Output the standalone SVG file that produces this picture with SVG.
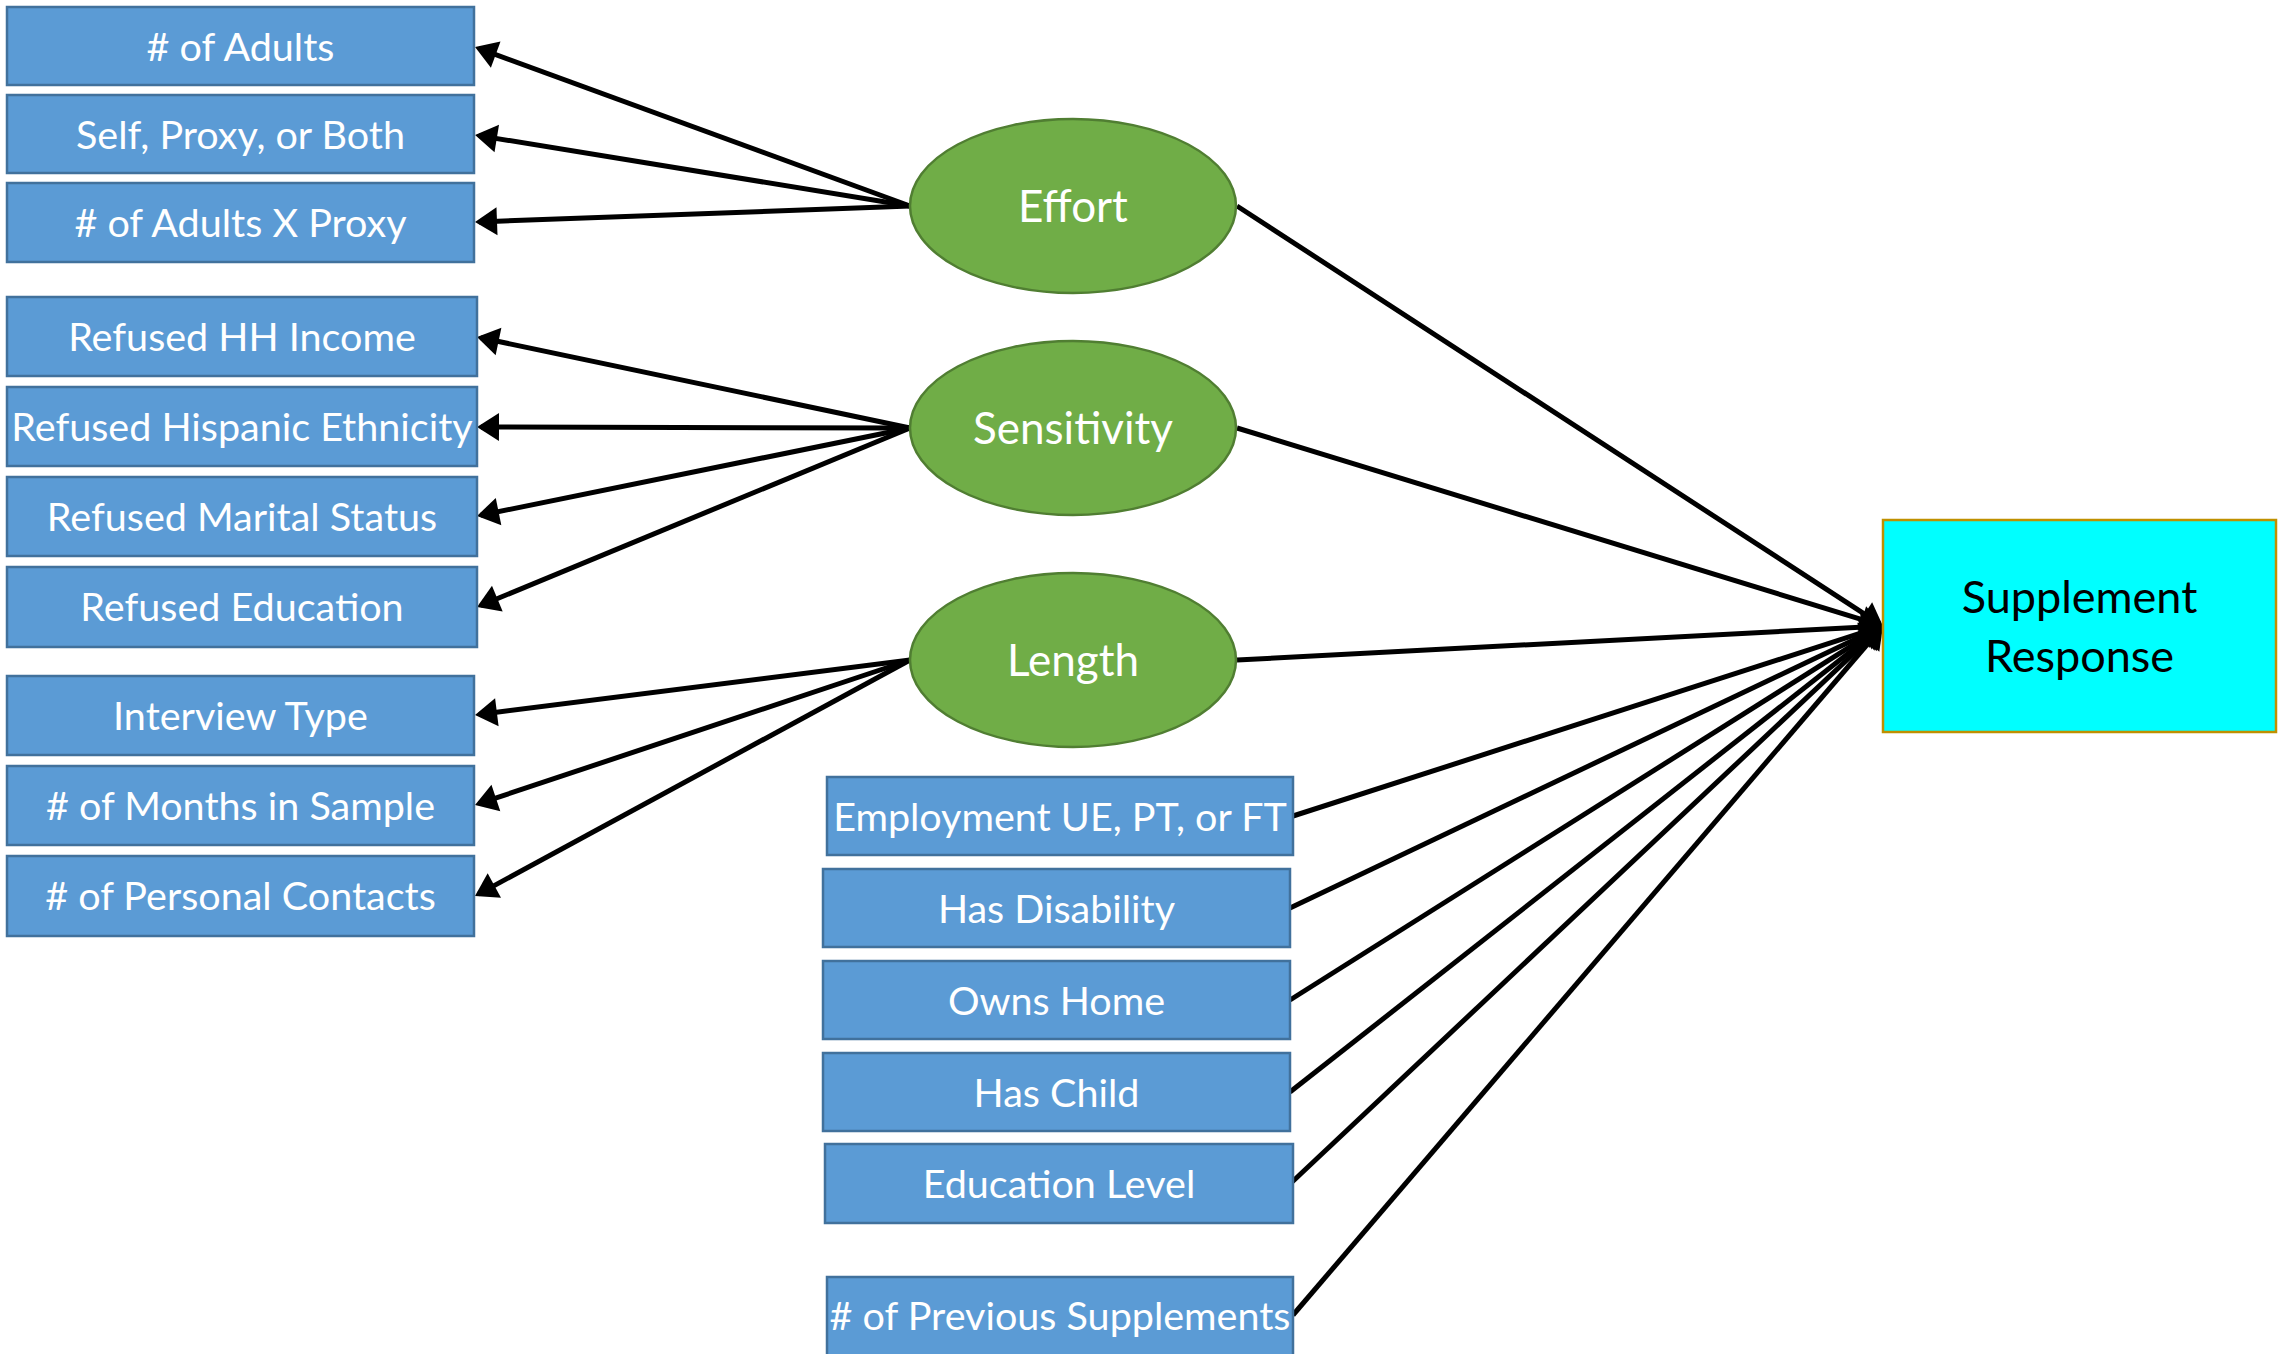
<svg xmlns="http://www.w3.org/2000/svg" width="2280" height="1354" viewBox="0 0 2280 1354">
<style>
.box{fill:#5B9BD5;stroke:#41719C;stroke-width:2.5}
.ell{fill:#70AD47;stroke:#507E32;stroke-width:2.5}
.out{fill:#00FFFF;stroke:#BF9000;stroke-width:2.5}
.t{font-family:Lato,"Open Sans",sans-serif;font-size:39.5px;fill:#FFFFFF;text-anchor:middle}
.te{font-family:Lato,"Open Sans",sans-serif;font-size:44px;fill:#FFFFFF;text-anchor:middle}
.tb{font-family:Lato,"Open Sans",sans-serif;font-size:45px;fill:#000000;text-anchor:middle}
.c{stroke:#000;stroke-width:5;fill:none}
.a{marker-end:url(#ah)}
</style>
<defs>
<marker id="ah" markerUnits="userSpaceOnUse" markerWidth="22" markerHeight="28" viewBox="0 0 22 28" refX="18" refY="14" orient="auto" overflow="visible">
<path d="M0,0 L22,14 L0,28 z" fill="#000"/>
</marker>
</defs>
<rect width="2280" height="1354" fill="#FFFFFF"/>
<g id="connectors">
<line class="c a" x1="910" y1="206" x2="478.8" y2="48.4"/>
<line class="c a" x1="910" y1="206" x2="479" y2="135.6"/>
<line class="c a" x1="910" y1="206" x2="479" y2="221.9"/>
<line class="c a" x1="910" y1="428" x2="480.9" y2="337.8"/>
<line class="c a" x1="910" y1="428" x2="481" y2="427"/>
<line class="c a" x1="910" y1="428" x2="480.9" y2="515.2"/>
<line class="c a" x1="910" y1="428" x2="480.7" y2="605.5"/>
<line class="c a" x1="910" y1="660" x2="479" y2="714.5"/>
<line class="c a" x1="910" y1="660" x2="478.8" y2="803.7"/>
<line class="c a" x1="910" y1="660" x2="478.5" y2="894.1"/>
<line class="c a" x1="1237" y1="206" x2="1879.6" y2="623.8"/>
<line class="c a" x1="1237" y1="428" x2="1879.2" y2="624.8"/>
<line class="c a" x1="1237" y1="660" x2="1879" y2="626.2"/>
<line class="c a" x1="1293" y1="816" x2="1879.2" y2="627.2"/>
<line class="c a" x1="1290" y1="908" x2="1879.4" y2="627.7"/>
<line class="c a" x1="1290" y1="1000" x2="1879.6" y2="628.1"/>
<line class="c a" x1="1290" y1="1092" x2="1879.9" y2="628.5"/>
<line class="c a" x1="1291" y1="1183" x2="1880.1" y2="628.7"/>
<line class="c a" x1="1293" y1="1315" x2="1880.4" y2="629"/>
</g>
<g id="n_adults"><rect class="box" x="7" y="7" width="467" height="78"/><text class="t" x="240.5" y="61">&#35; of Adults</text></g>
<g id="n_selfproxy"><rect class="box" x="7" y="95" width="467" height="78"/><text class="t" x="240.5" y="149">Self, Proxy, or Both</text></g>
<g id="n_adultsxproxy"><rect class="box" x="7" y="183" width="467" height="79"/><text class="t" x="240.5" y="237">&#35; of Adults X Proxy</text></g>
<g id="n_refhh"><rect class="box" x="7" y="297" width="470" height="79"/><text class="t" x="242" y="351">Refused HH Income</text></g>
<g id="n_refhisp"><rect class="box" x="7" y="387" width="470" height="79"/><text class="t" x="242" y="441">Refused Hispanic Ethnicity</text></g>
<g id="n_refmar"><rect class="box" x="7" y="477" width="470" height="79"/><text class="t" x="242" y="531">Refused Marital Status</text></g>
<g id="n_refedu"><rect class="box" x="7" y="567" width="470" height="80"/><text class="t" x="242" y="621">Refused Education</text></g>
<g id="n_inttype"><rect class="box" x="7" y="676" width="467" height="79"/><text class="t" x="240.5" y="730">Interview Type</text></g>
<g id="n_months"><rect class="box" x="7" y="766" width="467" height="79"/><text class="t" x="240.5" y="820">&#35; of Months in Sample</text></g>
<g id="n_contacts"><rect class="box" x="7" y="856" width="467" height="80"/><text class="t" x="240.5" y="910">&#35; of Personal Contacts</text></g>
<g id="n_effort"><ellipse class="ell" cx="1073" cy="206" rx="163" ry="87"/><text class="te" x="1073" y="222">Effort</text></g>
<g id="n_sensitivity"><ellipse class="ell" cx="1073" cy="428" rx="163" ry="87"/><text class="te" x="1073" y="444">Sensitivity</text></g>
<g id="n_length"><ellipse class="ell" cx="1073" cy="660" rx="163" ry="87"/><text class="te" x="1073" y="676">Length</text></g>
<g id="n_employment"><rect class="box" x="827" y="777" width="466" height="78"/><text class="t" x="1060" y="831">Employment UE, PT, or FT</text></g>
<g id="n_disability"><rect class="box" x="823" y="869" width="467" height="78"/><text class="t" x="1056.5" y="923">Has Disability</text></g>
<g id="n_home"><rect class="box" x="823" y="961" width="467" height="78"/><text class="t" x="1056.5" y="1015">Owns Home</text></g>
<g id="n_child"><rect class="box" x="823" y="1053" width="467" height="78"/><text class="t" x="1056.5" y="1107">Has Child</text></g>
<g id="n_edulevel"><rect class="box" x="825" y="1144" width="468" height="79"/><text class="t" x="1059" y="1198">Education Level</text></g>
<g id="n_prevsupp"><rect class="box" x="827" y="1277" width="466" height="80"/><text class="t" x="1060" y="1330">&#35; of Previous Supplements</text></g>
<g id="n_response"><rect class="out" x="1883" y="520" width="393" height="212"/><text class="tb" x="2079.5" y="613">Supplement</text><text class="tb" x="2079.5" y="672">Response</text></g>
</svg>
